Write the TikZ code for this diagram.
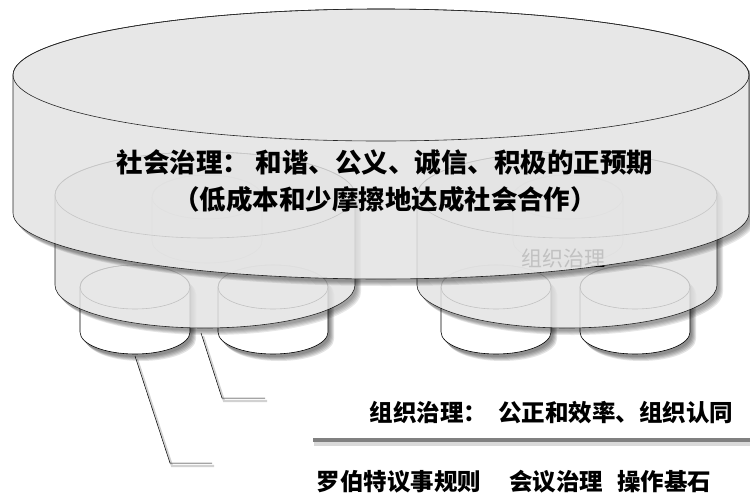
\documentclass[tikz,border=0pt]{standalone}
\usepackage{fontspec}
\setmainfont{Noto Sans CJK SC}

% cylinder outline: centre x, top y, bottom y, x radius, y radius
\newcommand{\cylpath}[5]{(#1-#4,#2) -- (#1-#4,#3)
  arc[start angle=180,end angle=0,x radius=#4,y radius=#5] -- (#1+#4,#2)
  arc[start angle=0,end angle=-180,x radius=#4,y radius=#5] -- cycle}
\newcommand{\cyltop}[5]{(#1,#2) ellipse[x radius=#4,y radius=#5]}
% soft shadow under a path
\newcommand{\softshadow}[1]{\foreach \s in {1,...,5}{%
  \fill[black,opacity=0.11,shift={(\s+1,\s+2)}] #1;}}

\begin{document}
\begin{tikzpicture}[x=1pt, y=-1pt,
    cylfill/.style={fill=black!11, draw=black, line width=0.6pt},
    smallfill/.style={fill=white, draw=black, line width=0.6pt},
    lead/.style={draw=black, line width=0.5pt,
      preaction={draw=black, opacity=0.18, line width=2.2pt,
        transform canvas={shift={(2pt,-3pt)}}}},
    maintext/.style={font=\fontsize{26.5}{37}\selectfont\bfseries},
    labeltext/.style={font=\fontsize{23.5}{26}\selectfont\bfseries}]
  \useasboundingbox (0,0) rectangle (750,499);
  \clip (0,0) rectangle (750,499);
  \def\sty{287} \def\sby{332}   % small cylinders
  \def\mty{195} \def\mby{285}   % middle cylinders

  % ---- 1) four small cylinders ----
  \foreach \cx in {135,273,496,635}{
    \softshadow{\cylpath{\cx}{\sty}{\sby}{55}{22}}
    \filldraw[smallfill] \cylpath{\cx}{\sty}{\sby}{55}{22};
    \draw[line width=0.6pt] \cyltop{\cx}{\sty}{\sby}{55}{22};
  }

  % ---- 2) inner cylinders inside the middle ones ----
  \foreach \cx in {207,568}{
    \begin{scope}[transparency group, opacity=0.5]
      \draw[line width=0.6pt] \cylpath{\cx}{197}{241}{55}{22};
      \draw[line width=0.6pt] \cyltop{\cx}{197}{241}{55}{22};
    \end{scope}
  }

  % ---- 3) two middle cylinders ----
  \foreach \cx in {205,567}{
    \begin{scope}[transparency group, opacity=0.85]
      \softshadow{\cylpath{\cx}{\mty}{\mby}{150}{43}}
      \filldraw[cylfill] \cylpath{\cx}{\mty}{\mby}{150}{43};
      \draw[line width=0.6pt] \cyltop{\cx}{\mty}{\mby}{150}{43};
    \end{scope}
  }
  \node[font=\fontsize{21}{24}\selectfont] (orgin) at (563,259) {组织治理};

  % ---- 4) big cylinder ----
  \begin{scope}[transparency group, opacity=0.85]
    \softshadow{\cylpath{381}{75}{213}{368}{66}}
    \filldraw[cylfill] \cylpath{381}{75}{213}{368}{66};
    \draw[line width=0.6pt] \cyltop{381}{75}{213}{368}{66};
  \end{scope}
  \node[maintext, align=center] (social) at (385,181)
    {社会治理： 和谐、公义、诚信、积极的正预期\\（低成本和少摩擦地达成社会合作）};

  % ---- 5) leaders and labels ----
  \coordinate (midtip) at (201,333);
  \coordinate (midbend) at (222,398);
  \coordinate (midend) at (265,398);
  \coordinate (smalltip) at (135,356);
  \coordinate (smallbend) at (170,463);
  \coordinate (smallend) at (212,463);
  \draw[lead] (midtip) -- (midbend) -- (midend);
  \draw[lead] (smalltip) -- (smallbend) -- (smallend);

  \node[labeltext, anchor=east] (orglabel) at (737,413)
    {组织治理：\hspace{6pt} 公正和效率、组织认同};
  \coordinate (barstart) at (313,440);
  \coordinate (barend) at (752,440);
  \draw[black!50, line width=4.5pt,
    preaction={draw=black, opacity=0.15, line width=6pt,
      transform canvas={shift={(1pt,-3pt)}}}] (barstart) -- (barend);
  \node[labeltext, anchor=east] (rules) at (715,482)
    {罗伯特议事规则\hspace{28pt}会议治理\hspace{14pt}操作基石};
\end{tikzpicture}
\end{document}
